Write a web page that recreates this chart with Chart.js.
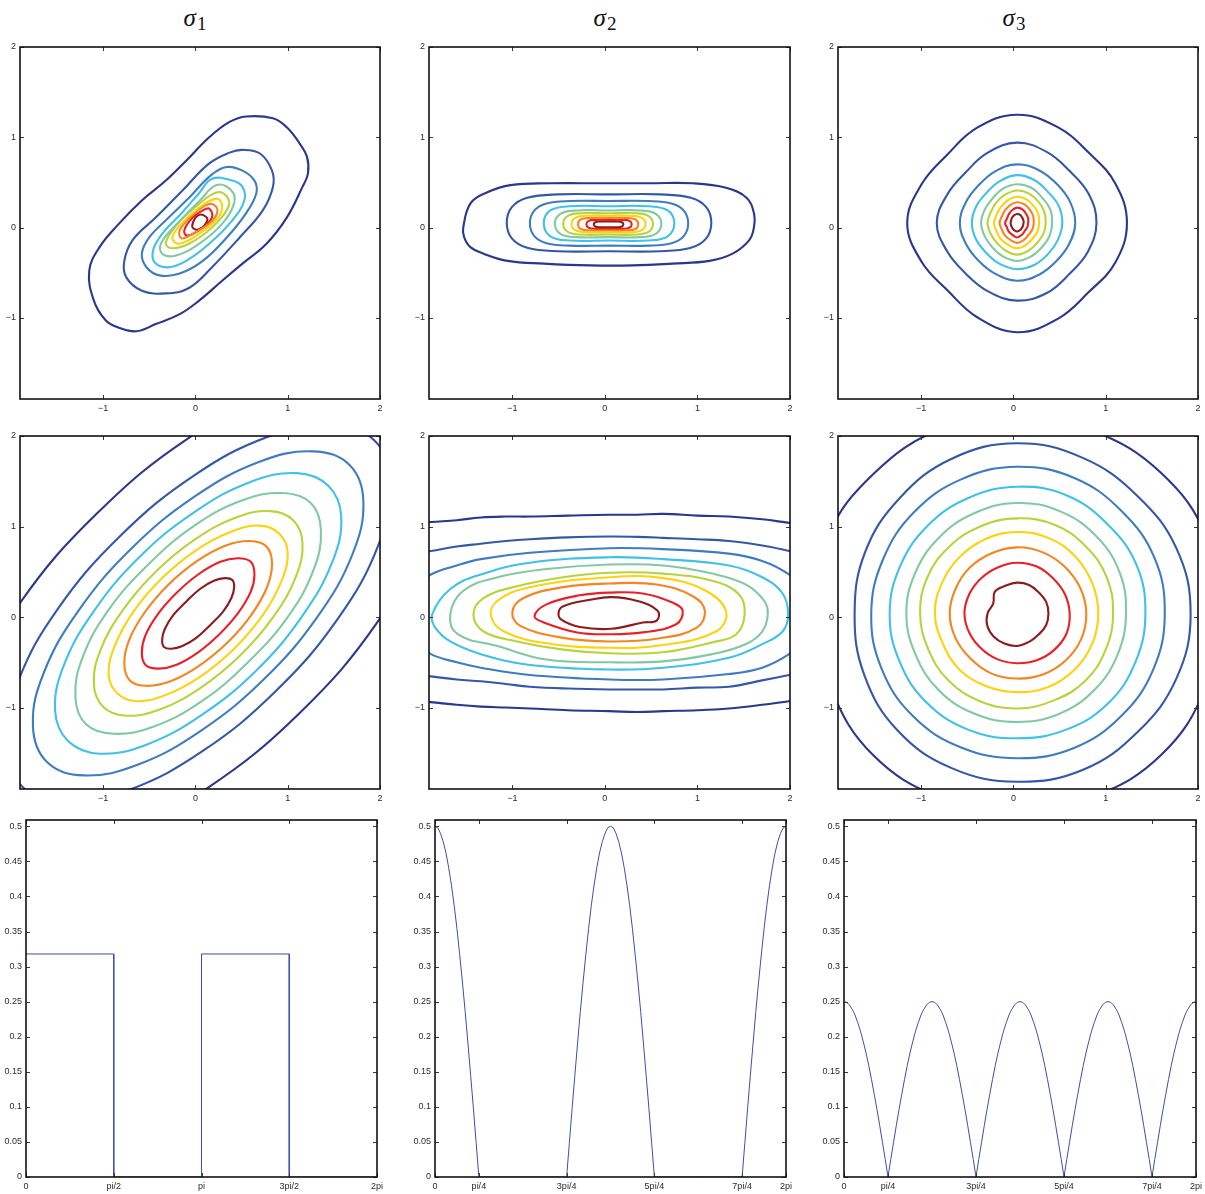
<!DOCTYPE html>
<html>
<head>
<meta charset="utf-8">
<title>Angular densities sigma1, sigma2, sigma3 and their contour maps</title>
<script src="https://cdn.jsdelivr.net/npm/chart.js@4.4.1/dist/chart.umd.min.js"></script>
<style>
  html, body { margin: 0; padding: 0; background: #fff; }
  body { width: 1205px; height: 1194px; position: relative; overflow: hidden; }
  canvas.panel { position: absolute; }
  .heading { position: absolute; top: 5px; transform: translateX(-50%); font-family: "Liberation Serif", "DejaVu Serif", serif; font-size: 25px; line-height: 25px; color: #111; white-space: nowrap; }
  .heading i { font-style: italic; }
  .heading sub { font-style: normal; font-size: 19px; position: relative; top: 4px; vertical-align: baseline; margin-left: 1px; }
</style>
</head>
<body>
<div class="heading" style="left:195px"><i>σ</i><sub>1</sub></div>
<div class="heading" style="left:605px"><i>σ</i><sub>2</sub></div>
<div class="heading" style="left:1014px"><i>σ</i><sub>3</sub></div>
<script>
// ---------------------------------------------------------------------------
// Shared axis data
// ---------------------------------------------------------------------------
const CONTOUR_RANGE = [-1.9, 2];
const CONTOUR_TICKS = [-1, 0, 1, 2];
const CONTOUR_TICK_LABELS = ['\u22121', '0', '1', '2'];

const DENSITY_RANGE = [0, 0.509];
const DENSITY_TICKS = [0, 0.05, 0.1, 0.15, 0.2, 0.25, 0.3, 0.35, 0.4, 0.45, 0.5];
const DENSITY_TICK_LABELS = ['0', '0.05', '0.1', '0.15', '0.2', '0.25', '0.3', '0.35', '0.4', '0.45', '0.5'];

// angle ticks, in multiples of pi
const ANGLE_TICKS_HALF = [0, 0.5, 1, 1.5, 2];
const ANGLE_LABELS_HALF = ['0', 'pi/2', 'pi', '3pi/2', '2pi'];
const ANGLE_TICKS_QUARTER = [0, 0.25, 0.75, 1.25, 1.75, 2];
const ANGLE_LABELS_QUARTER = ['0', 'pi/4', '3pi/4', '5pi/4', '7pi/4', '2pi'];

// contour levels, outermost (lowest) first
const LEVEL_COLOURS = ['#28378f', '#3458a8', '#3e7dc1', '#3fc1e9', '#80c9a3',
                       '#b8d43b', '#fdd20e', '#f6841f', '#ec1f27', '#8e1b1e'];

// ---------------------------------------------------------------------------
// Row 1, sigma1: tilted level curves, x,y pairs
// ---------------------------------------------------------------------------
const contoursA = [
  [0.55,1.23, 0.84,1.21, 0.99,1.11, 1.13,0.93, 1.21,0.78, 1.22,0.60, 1.16,0.45, 0.99,0.11, 0.77,-0.18, 0.51,-0.40, 0.29,-0.59, 0.04,-0.81, -0.17,-0.96, -0.43,-1.07, -0.64,-1.15, -0.83,-1.11, -0.97,-1.03, -1.10,-0.81, -1.15,-0.48, -1.04,-0.22, -0.83,0.04, -0.58,0.30, -0.32,0.52, -0.10,0.74, 0.15,1.00, 0.37,1.17],
  [0.51,0.86, 0.70,0.82, 0.83,0.63, 0.84,0.45, 0.73,0.19, 0.48,-0.11, 0.18,-0.44, -0.07,-0.67, -0.32,-0.73, -0.58,-0.70, -0.75,-0.55, -0.77,-0.37, -0.68,-0.14, -0.43,0.11, -0.14,0.41, 0.15,0.71, 0.37,0.83],
  [0.34,0.67, 0.51,0.63, 0.64,0.52, 0.66,0.38, 0.55,0.16, 0.34,-0.11, 0.08,-0.37, -0.17,-0.51, -0.39,-0.53, -0.53,-0.44, -0.58,-0.29, -0.50,-0.11, -0.30,0.10, -0.05,0.35, 0.17,0.58],
  [0.18,0.54, 0.40,0.52, 0.51,0.45, 0.53,0.30, 0.40,0.08, 0.15,-0.18, -0.10,-0.37, -0.28,-0.44, -0.43,-0.40, -0.46,-0.26, -0.36,-0.07, -0.14,0.17, 0.04,0.38],
  [0.23,0.47, 0.39,0.41, 0.42,0.27, 0.29,0.04, 0.04,-0.18, -0.21,-0.31, -0.36,-0.29, -0.37,-0.17, -0.19,0.05, 0.05,0.30],
  [0.24,0.39, 0.35,0.33, 0.35,0.21, 0.18,0.00, -0.07,-0.18, -0.26,-0.23, -0.32,-0.17, -0.21,0.02, 0.04,0.26],
  [0.23,0.32, 0.29,0.24, 0.24,0.10, 0.04,-0.07, -0.17,-0.18, -0.25,-0.12, -0.17,0.02, 0.04,0.22],
  [0.18,0.26, 0.24,0.19, 0.17,0.06, -0.03,-0.07, -0.15,-0.12, -0.17,-0.03, -0.03,0.14, 0.08,0.23],
  [0.15,0.21, 0.18,0.11, 0.04,-0.03, -0.09,-0.09, -0.12,-0.03, -0.03,0.11, 0.08,0.19],
  [0.08,0.14, 0.13,0.08, 0.04,-0.02, -0.03,0.00, -0.02,0.07, 0.02,0.13]
];

// ---------------------------------------------------------------------------
// Row 1, sigma2: flat, horizontally stretched level curves
// ---------------------------------------------------------------------------
const contoursB = [
  [-1.53,0.00, -1.45,0.27, -1.27,0.39, -1.02,0.47, -0.59,0.49, -0.05,0.49, 0.48,0.49, 0.95,0.49, 1.31,0.44, 1.53,0.33, 1.61,0.16, 1.61,0.00, 1.56,-0.14, 1.38,-0.29, 1.13,-0.37, 0.73,-0.40, 0.30,-0.42, -0.16,-0.42, -0.66,-0.40, -1.05,-0.37, -1.31,-0.29, -1.45,-0.22, -1.52,-0.11],
  [1.15,0.052, 1.095,0.225, 0.929,0.329, 0.598,0.367, 0.045,0.367, -0.508,0.367, -0.839,0.329, -1.005,0.225, -1.06,0.052, -1.005,-0.121, -0.839,-0.225, -0.508,-0.263, 0.045,-0.263, 0.598,-0.263, 0.929,-0.225, 1.095,-0.121],
  [0.90,0.046, 0.857,0.182, 0.729,0.263, 0.473,0.293, 0.045,0.293, -0.383,0.293, -0.639,0.263, -0.767,0.182, -0.81,0.046, -0.767,-0.09, -0.639,-0.171, -0.383,-0.201, 0.045,-0.201, 0.473,-0.201, 0.729,-0.171, 0.857,-0.09],
  [0.75,0.046, 0.68,0.189, 0.47,0.236, 0.045,0.236, -0.38,0.236, -0.59,0.189, -0.66,0.046, -0.59,-0.097, -0.38,-0.144, 0.045,-0.144, 0.47,-0.144, 0.68,-0.097],
  [0.61,0.041, 0.55,0.152, 0.38,0.189, 0.035,0.189, -0.31,0.189, -0.48,0.152, -0.54,0.041, -0.48,-0.07, -0.31,-0.107, 0.035,-0.107, 0.38,-0.107, 0.55,-0.07],
  [0.52,0.04, 0.47,0.129, 0.33,0.158, 0.035,0.158, -0.26,0.158, -0.40,0.129, -0.45,0.04, -0.40,-0.049, -0.26,-0.078, 0.035,-0.078, 0.33,-0.078, 0.47,-0.049],
  [0.44,0.039, 0.40,0.107, 0.28,0.13, 0.04,0.13, -0.20,0.13, -0.32,0.107, -0.36,0.039, -0.32,-0.029, -0.20,-0.052, 0.04,-0.052, 0.28,-0.052, 0.40,-0.029],
  [0.36,0.037, 0.33,0.09, 0.23,0.107, 0.035,0.107, -0.16,0.107, -0.26,0.09, -0.29,0.037, -0.26,-0.016, -0.16,-0.033, 0.035,-0.033, 0.23,-0.033, 0.33,-0.016],
  [0.29,0.035, 0.265,0.073, 0.19,0.085, 0.045,0.085, -0.10,0.085, -0.175,0.073, -0.20,0.035, -0.175,-0.003, -0.10,-0.015, 0.045,-0.015, 0.19,-0.015, 0.265,-0.003],
  [0.20,0.035, 0.184,0.059, 0.136,0.067, 0.04,0.067, -0.056,0.067, -0.104,0.059, -0.12,0.035, -0.104,0.011, -0.056,0.003, 0.04,0.003, 0.136,0.003, 0.184,0.011]
];

// ---------------------------------------------------------------------------
// Row 1, sigma3: rounded level curves given as radii every 22.5 degrees
// (east first, counter-clockwise) around a common centre
// ---------------------------------------------------------------------------
const centreC = [0.04, 0.05];
const radiiC = [
  [1.19,1.15,1.10,1.15,1.20,1.14,1.07,1.12,1.19,1.12,1.06,1.13,1.21,1.15,1.09,1.15],
  [0.86,0.84,0.81,0.85,0.89,0.84,0.79,0.82,0.87,0.82,0.79,0.82,0.86,0.84,0.80,0.83],
  [0.63,0.62,0.61,0.63,0.65,0.62,0.59,0.60,0.62,0.60,0.59,0.61,0.64,0.62,0.60,0.61],
  [0.49,0.49,0.48,0.51,0.53,0.50,0.47,0.48,0.49,0.48,0.47,0.49,0.51,0.50,0.48,0.48],
  [0.38,0.39,0.39,0.42,0.43,0.41,0.38,0.38,0.39,0.38,0.38,0.40,0.42,0.40,0.38,0.38],
  [0.31,0.32,0.33,0.35,0.36,0.34,0.32,0.31,0.32,0.31,0.31,0.33,0.35,0.33,0.31,0.31],
  [0.24,0.25,0.26,0.28,0.29,0.27,0.25,0.24,0.25,0.24,0.25,0.26,0.28,0.26,0.24,0.24],
  [0.18,0.19,0.20,0.22,0.23,0.21,0.19,0.18,0.19,0.18,0.19,0.20,0.22,0.20,0.18,0.18],
  [0.12,0.13,0.14,0.16,0.17,0.15,0.13,0.12,0.13,0.12,0.13,0.14,0.16,0.14,0.12,0.12],
  [0.07,0.075,0.08,0.095,0.10,0.09,0.08,0.07,0.07,0.07,0.075,0.085,0.095,0.085,0.075,0.07]
];

// ---------------------------------------------------------------------------
// Row 2, sigma1: wide tilted level curves, x,y pairs
// ---------------------------------------------------------------------------
const contoursD = [
  [2.43,2.44, 1.83,2.68, 0.95,2.52, -0.07,1.98, -1.07,1.14, -1.91,0.14, -2.45,-0.88, -2.61,-1.76, -2.37,-2.36, -1.77,-2.60, -0.89,-2.44, 0.13,-1.89, 1.13,-1.06, 1.97,-0.06, 2.51,0.96, 2.67,1.84],
  [1.94,1.95, 1.47,2.13, 0.78,1.99, -0.02,1.56, -0.82,0.89, -1.49,0.09, -1.92,-0.71, -2.06,-1.40, -1.88,-1.87, -1.41,-2.05, -0.72,-1.91, 0.08,-1.48, 0.88,-0.81, 1.55,-0.01, 1.98,0.79, 2.12,1.48],
  [1.67,1.68, 1.27,1.83, 0.68,1.71, -0.01,1.33, -0.69,0.76, -1.26,0.08, -1.64,-0.61, -1.76,-1.20, -1.61,-1.60, -1.21,-1.75, -0.62,-1.63, 0.07,-1.25, 0.75,-0.68, 1.32,0.00, 1.70,0.69, 1.82,1.28],
  [1.44,1.45, 1.10,1.59, 0.59,1.49, -0.01,1.16, -0.60,0.67, -1.09,0.08, -1.42,-0.52, -1.52,-1.03, -1.38,-1.37, -1.04,-1.51, -0.53,-1.41, 0.07,-1.08, 0.66,-0.59, 1.15,0.00, 1.48,0.60, 1.58,1.11],
  [1.25,1.26, 0.95,1.37, 0.51,1.29, -0.01,1.01, -0.51,0.58, -0.94,0.08, -1.22,-0.44, -1.30,-0.88, -1.19,-1.18, -0.89,-1.29, -0.45,-1.21, 0.07,-0.93, 0.57,-0.50, 1.00,0.00, 1.28,0.52, 1.36,0.96],
  [1.06,1.07, 0.81,1.17, 0.44,1.10, 0.00,0.86, -0.43,0.50, -0.79,0.07, -1.03,-0.37, -1.10,-0.74, -1.00,-0.99, -0.75,-1.09, -0.38,-1.02, 0.06,-0.78, 0.49,-0.42, 0.85,0.01, 1.09,0.45, 1.16,0.82],
  [0.91,0.92, 0.70,1.01, 0.38,0.94, 0.01,0.74, -0.36,0.43, -0.67,0.06, -0.87,-0.31, -0.94,-0.63, -0.85,-0.84, -0.64,-0.93, -0.32,-0.86, 0.05,-0.66, 0.42,-0.35, 0.73,0.02, 0.93,0.39, 1.00,0.71],
  [0.77,0.78, 0.59,0.84, 0.33,0.79, 0.02,0.62, -0.29,0.36, -0.55,0.05, -0.72,-0.26, -0.77,-0.52, -0.71,-0.70, -0.53,-0.76, -0.27,-0.71, 0.04,-0.54, 0.35,-0.28, 0.61,0.03, 0.78,0.34, 0.83,0.60],
  [0.60,0.61, 0.46,0.65, 0.27,0.61, 0.03,0.47, -0.20,0.27, -0.40,0.04, -0.54,-0.20, -0.58,-0.39, -0.54,-0.53, -0.40,-0.57, -0.21,-0.53, 0.03,-0.39, 0.26,-0.19, 0.46,0.04, 0.60,0.28, 0.64,0.47],
  [0.40,0.41, 0.32,0.43, 0.20,0.40, 0.05,0.31, -0.10,0.17, -0.24,0.02, -0.33,-0.13, -0.36,-0.25, -0.34,-0.33, -0.26,-0.35, -0.14,-0.32, 0.01,-0.23, 0.16,-0.09, 0.30,0.06, 0.39,0.21, 0.42,0.33]
];

// ---------------------------------------------------------------------------
// Row 2, sigma2: the two outer levels run off both sides (open curves),
// the rest are closed
// ---------------------------------------------------------------------------
const edgeLevelsE = [0, 0, 1, 1];
const edgeCurvesE = [
  [-2.2,1.02, -1.88,1.05, -1.6,1.07, -1.34,1.10, -1.07,1.11, -0.81,1.11, -0.4,1.12, 0.05,1.13, 0.35,1.13, 0.63,1.14, 1.0,1.12, 1.34,1.11, 1.70,1.08, 1.99,1.04, 2.3,1.00],
  [-2.2,-0.91, -1.88,-0.94, -1.6,-0.97, -1.34,-0.99, -1.07,-1.00, -0.81,-1.01, -0.4,-1.03, 0.05,-1.04, 0.35,-1.05, 0.63,-1.04, 1.0,-1.03, 1.34,-1.01, 1.70,-0.97, 1.99,-0.93, 2.3,-0.89],
  [-2.2,0.68, -1.88,0.73, -1.6,0.78, -1.34,0.81, -1.07,0.84, -0.81,0.86, -0.4,0.88, 0.05,0.89, 0.35,0.885, 0.63,0.875, 1.0,0.86, 1.34,0.84, 1.70,0.79, 1.99,0.73, 2.3,0.66],
  [-2.2,-0.60, -1.88,-0.656, -1.6,-0.69, -1.34,-0.71, -1.07,-0.74, -0.81,-0.77, -0.4,-0.79, 0.05,-0.80, 0.35,-0.80, 0.63,-0.80, 1.0,-0.78, 1.34,-0.77, 1.70,-0.70, 1.99,-0.64, 2.3,-0.58]
];
const closedLevelsE = [2, 3, 4, 5, 6, 7, 8, 9];
const closedCurvesE = [
  [-2.17,0.03, -2.05,0.32, -1.88,0.47, -1.6,0.57, -1.34,0.64, -0.81,0.71, 0.05,0.76, 0.63,0.75, 1.34,0.70, 1.70,0.62, 1.99,0.47, 2.15,0.30, 2.26,0.03, 2.15,-0.26, 1.99,-0.41, 1.70,-0.56, 1.34,-0.63, 0.63,-0.69, 0.05,-0.69, -0.81,-0.64, -1.34,-0.56, -1.6,-0.50, -1.88,-0.41, -2.05,-0.27],
  [-1.865,0.03, -1.67,0.31, -1.34,0.47, -0.81,0.60, 0.05,0.66, 0.63,0.64, 1.34,0.57, 1.70,0.44, 1.92,0.26, 1.98,0.03, 1.92,-0.16, 1.70,-0.30, 1.34,-0.45, 0.63,-0.56, 0.05,-0.58, -0.81,-0.53, -1.34,-0.41, -1.67,-0.27, -1.83,-0.12],
  [-1.67,0.03, -1.53,0.29, -1.16,0.44, -0.63,0.53, 0.05,0.58, 0.63,0.57, 1.16,0.48, 1.52,0.36, 1.72,0.18, 1.76,0.03, 1.70,-0.16, 1.52,-0.30, 1.16,-0.41, 0.63,-0.49, 0.05,-0.50, -0.63,-0.47, -1.16,-0.32, -1.59,-0.19],
  [-1.42,0.03, -1.31,0.21, -0.95,0.34, -0.45,0.44, 0.05,0.49, 0.63,0.48, 1.16,0.40, 1.45,0.25, 1.51,0.03, 1.42,-0.19, 1.16,-0.28, 0.63,-0.39, 0.05,-0.40, -0.45,-0.36, -0.95,-0.27, -1.31,-0.16],
  [-1.23,0.01, -1.16,0.18, -0.81,0.33, 0.05,0.44, 0.63,0.43, 1.09,0.29, 1.31,0.06, 1.20,-0.16, 0.63,-0.31, 0.05,-0.34, -0.63,-0.29, -1.09,-0.16],
  [-1.00,0.05, -0.88,0.21, -0.45,0.33, 0.05,0.37, 0.56,0.36, 0.95,0.23, 1.08,0.07, 0.99,-0.12, 0.56,-0.24, 0.05,-0.27, -0.45,-0.23, -0.91,-0.10],
  [-0.76,0.01, -0.63,0.14, -0.27,0.24, 0.05,0.27, 0.41,0.26, 0.73,0.16, 0.84,0.07, 0.77,-0.08, 0.41,-0.17, 0.05,-0.19, -0.30,-0.17, -0.66,-0.06],
  [-0.50,0.05, -0.45,0.12, -0.16,0.19, 0.07,0.22, 0.34,0.18, 0.57,0.07, 0.56,-0.04, 0.41,-0.06, 0.07,-0.13, -0.27,-0.11, -0.47,-0.03]
];

// ---------------------------------------------------------------------------
// Row 2, sigma3: near-circular level curves, radii every 22.5 degrees
// ---------------------------------------------------------------------------
const centreF = [0.04, 0.04];
const radiiF = [
  [2.20,2.22,2.20,2.18,2.21,2.20,2.19,2.22,2.20,2.18,2.21,2.20,2.22,2.19,2.21,2.20],
  [1.88,1.87,1.84,1.86,1.88,1.85,1.80,1.78,1.76,1.79,1.83,1.85,1.86,1.87,1.85,1.87],
  [1.60,1.61,1.60,1.62,1.62,1.60,1.58,1.57,1.58,1.59,1.60,1.60,1.60,1.61,1.60,1.60],
  [1.39,1.40,1.39,1.41,1.40,1.38,1.37,1.37,1.38,1.38,1.39,1.39,1.38,1.39,1.40,1.39],
  [1.18,1.20,1.21,1.22,1.22,1.20,1.19,1.19,1.20,1.19,1.20,1.20,1.20,1.20,1.19,1.18],
  [1.04,1.05,1.05,1.06,1.05,1.04,1.04,1.05,1.05,1.04,1.05,1.05,1.05,1.04,1.05,1.04],
  [0.88,0.88,0.89,0.90,0.90,0.89,0.88,0.88,0.89,0.87,0.88,0.87,0.87,0.88,0.88,0.88],
  [0.75,0.74,0.73,0.73,0.73,0.72,0.72,0.72,0.73,0.72,0.71,0.72,0.72,0.73,0.74,0.75],
  [0.57,0.56,0.55,0.56,0.56,0.55,0.55,0.56,0.57,0.56,0.55,0.55,0.55,0.56,0.57,0.58],
  [0.34,0.34,0.33,0.34,0.34,0.33,0.34,0.28,0.32,0.35,0.36,0.36,0.36,0.34,0.33,0.34]
];

// ---------------------------------------------------------------------------
// Row 3: angular densities
// ---------------------------------------------------------------------------
// sigma1: piecewise constant, angles in multiples of pi
const sigma1StepAngles  = [0, 0.5, 0.5, 1, 1, 1.5, 1.5, 2];
const sigma1StepDensity = [0.318, 0.318, 0, 0, 0.318, 0.318, 0, 0];

// sigma2 and sigma3 sampled on an even grid from 0 to 2pi
const sigma2Density = [
  0.500,0.498,0.490,0.478,0.462,0.441,0.416,0.387,0.354,0.317,0.278,0.236,0.191,0.145,0.098,0.049,0,
  0,0,0,0,0,0,0,0,0,0, 0,0,0,0,0,0,0,0,0,0, 0,0,0,0,0,0,0,0,0,0, 0,
  0,0.049,0.098,0.145,0.191,0.236,0.278,0.317,0.354,0.387,0.416,0.441,0.462,0.478,0.490,0.498,0.500,
  0.498,0.490,0.478,0.462,0.441,0.416,0.387,0.354,0.317,0.278,0.236,0.191,0.145,0.098,0.049,0,
  0,0,0,0,0,0,0,0,0,0, 0,0,0,0,0,0,0,0,0,0, 0,0,0,0,0,0,0,0,0,0, 0,
  0,0.049,0.098,0.145,0.191,0.236,0.278,0.317,0.354,0.387,0.416,0.441,0.462,0.478,0.490,0.498,0.500
];
const sigma3Density = [
  0.250,0.249,0.245,0.239,0.231,0.220,0.208,0.193,0.177,0.159,0.139,0.118,0.096,0.073,0.049,0.025,0,
  0.025,0.049,0.073,0.096,0.118,0.139,0.159,0.177,0.193,0.208,0.220,0.231,0.239,0.245,0.249,0.250,
  0.249,0.245,0.239,0.231,0.220,0.208,0.193,0.177,0.159,0.139,0.118,0.096,0.073,0.049,0.025,0,
  0.025,0.049,0.073,0.096,0.118,0.139,0.159,0.177,0.193,0.208,0.220,0.231,0.239,0.245,0.249,0.250,
  0.249,0.245,0.239,0.231,0.220,0.208,0.193,0.177,0.159,0.139,0.118,0.096,0.073,0.049,0.025,0,
  0.025,0.049,0.073,0.096,0.118,0.139,0.159,0.177,0.193,0.208,0.220,0.231,0.239,0.245,0.249,0.250,
  0.249,0.245,0.239,0.231,0.220,0.208,0.193,0.177,0.159,0.139,0.118,0.096,0.073,0.049,0.025,0,
  0.025,0.049,0.073,0.096,0.118,0.139,0.159,0.177,0.193,0.208,0.220,0.231,0.239,0.245,0.249,0.250
];

// ---------------------------------------------------------------------------
// Page layout: plot rectangles [left, top, right, bottom] in page pixels
// ---------------------------------------------------------------------------
const GRID_COLS = [[20, 380], [429, 790], [838, 1198]];
const GRID_ROWS = [[47, 399], [436, 789]];
const DENSITY_COLS = [[26, 377], [435, 786], [844, 1196]];
const DENSITY_ROW = [820, 1177];

const AXIS_BAND_Y = 40;   // room for y tick labels
const AXIS_BAND_X = 22;   // room for x tick labels
const PAD_TOP = 10;
const PAD_RIGHT = 12;

const TICK_FONT = { family: '"Liberation Sans", Arial, Helvetica, sans-serif', size: 9 };
const TICK_COLOUR = '#2b2b2b';
const CONTOUR_WIDTH = 2.1;
const DENSITY_COLOUR = '#3a50a4';

// ---------------------------------------------------------------------------
// Helpers
// ---------------------------------------------------------------------------
const toPoints = flat => {
  const pts = [];
  for (let i = 0; i < flat.length; i += 2) pts.push({ x: flat[i], y: flat[i + 1] });
  return pts;
};
const ANGLES16 = Array.from({ length: 16 }, (_, k) => k * Math.PI / 8);
const polarPoints = (centre, radii) =>
  radii.map((r, k) => ({ x: centre[0] + r * Math.cos(ANGLES16[k]), y: centre[1] + r * Math.sin(ANGLES16[k]) }));

// A closed curve: wrap one point on each side so the spline closes smoothly,
// and hide the two wrap-around segments.
function closedCurve(points, colour) {
  const n = points.length;
  return {
    data: [points[n - 1], ...points, points[0], points[1]],
    borderColor: colour,
    borderWidth: CONTOUR_WIDTH,
    borderJoinStyle: 'round',
    tension: 0.4,
    showLine: true,
    clip: 0,
    segment: {
      borderColor: s => (s.p0DataIndex === 0 || s.p0DataIndex === n + 1) ? 'rgba(0,0,0,0)' : undefined
    }
  };
}
function openCurve(points, colour) {
  return { data: points, borderColor: colour, borderWidth: CONTOUR_WIDTH, borderJoinStyle: 'round',
           tension: 0.4, showLine: true, clip: 0 };
}

function axis(range, ticks, labels, isX) {
  return {
    type: 'linear',
    min: range[0],
    max: range[1],
    bounds: 'data',
    grid: { display: false, drawTicks: false },
    border: { display: false },
    ticks: {
      autoSkip: false, maxRotation: 0, minRotation: 0,
      padding: 4,
      color: TICK_COLOUR, font: TICK_FONT,
      callback: (v, i) => labels[i]
    },
    afterBuildTicks: s => { s.ticks = ticks.map(v => ({ value: v })); },
    afterFit: s => {
      if (isX) s.height = AXIS_BAND_X; else s.width = AXIS_BAND_Y;
      s.paddingLeft = 0; s.paddingRight = 0; s.paddingTop = 0; s.paddingBottom = 0;
    }
  };
}

// Box frame with short inward ticks on all four sides.
const boxFrame = {
  id: 'boxFrame',
  afterDatasetsDraw(chart) {
    const { ctx, chartArea: a, scales: { x, y } } = chart;
    const len = 4;
    ctx.save();
    ctx.strokeStyle = '#3a3a3a';
    ctx.lineWidth = 1;
    ctx.beginPath();
    x.ticks.forEach(t => {
      const px = Math.round(x.getPixelForValue(t.value)) + 0.5;
      ctx.moveTo(px, a.bottom); ctx.lineTo(px, a.bottom - len);
      ctx.moveTo(px, a.top); ctx.lineTo(px, a.top + len);
    });
    y.ticks.forEach(t => {
      const py = Math.round(y.getPixelForValue(t.value)) + 0.5;
      ctx.moveTo(a.left, py); ctx.lineTo(a.left + len, py);
      ctx.moveTo(a.right, py); ctx.lineTo(a.right - len, py);
    });
    ctx.stroke();
    ctx.strokeStyle = '#111';
    ctx.lineWidth = 1.6;
    ctx.strokeRect(a.left, a.top, a.right - a.left, a.bottom - a.top);
    ctx.restore();
  }
};

function makeCanvas(left, top, right, bottom) {
  const c = document.createElement('canvas');
  c.className = 'panel';
  c.width = right - left + AXIS_BAND_Y + PAD_RIGHT;
  c.height = bottom - top + PAD_TOP + AXIS_BAND_X;
  c.style.left = (left - AXIS_BAND_Y) + 'px';
  c.style.top = (top - PAD_TOP) + 'px';
  c.style.width = c.width + 'px';
  c.style.height = c.height + 'px';
  document.body.appendChild(c);
  return c;
}

function drawPanel(rect, datasets, xAxis, yAxis) {
  const canvas = makeCanvas(rect[0], rect[1], rect[2], rect[3]);
  return new Chart(canvas, {
    type: 'scatter',
    data: { datasets },
    options: {
      responsive: false,
      devicePixelRatio: 1,
      animation: false,
      events: [],
      layout: { padding: { left: 0, top: PAD_TOP, right: PAD_RIGHT, bottom: 0 } },
      elements: { point: { radius: 0, hoverRadius: 0 }, line: { capBezierPoints: false } },
      plugins: { legend: { display: false }, tooltip: { enabled: false }, title: { display: false } },
      scales: { x: xAxis, y: yAxis }
    },
    plugins: [boxFrame]
  });
}

const contourAxes = () => [
  axis(CONTOUR_RANGE, CONTOUR_TICKS, CONTOUR_TICK_LABELS, true),
  axis(CONTOUR_RANGE, CONTOUR_TICKS, CONTOUR_TICK_LABELS, false)
];
const rect = (col, row) => [col[0], row[0], col[1], row[1]];

// ---------------------------------------------------------------------------
// Row 1
// ---------------------------------------------------------------------------
drawPanel(rect(GRID_COLS[0], GRID_ROWS[0]),
  contoursA.map((c, i) => closedCurve(toPoints(c), LEVEL_COLOURS[i])), ...contourAxes());
drawPanel(rect(GRID_COLS[1], GRID_ROWS[0]),
  contoursB.map((c, i) => closedCurve(toPoints(c), LEVEL_COLOURS[i])), ...contourAxes());
drawPanel(rect(GRID_COLS[2], GRID_ROWS[0]),
  radiiC.map((r, i) => closedCurve(polarPoints(centreC, r), LEVEL_COLOURS[i])), ...contourAxes());

// ---------------------------------------------------------------------------
// Row 2
// ---------------------------------------------------------------------------
drawPanel(rect(GRID_COLS[0], GRID_ROWS[1]),
  contoursD.map((c, i) => closedCurve(toPoints(c), LEVEL_COLOURS[i])), ...contourAxes());
drawPanel(rect(GRID_COLS[1], GRID_ROWS[1]), [
  ...edgeCurvesE.map((c, i) => openCurve(toPoints(c), LEVEL_COLOURS[edgeLevelsE[i]])),
  ...closedCurvesE.map((c, i) => closedCurve(toPoints(c), LEVEL_COLOURS[closedLevelsE[i]]))
], ...contourAxes());
drawPanel(rect(GRID_COLS[2], GRID_ROWS[1]),
  radiiF.map((r, i) => closedCurve(polarPoints(centreF, r), LEVEL_COLOURS[i])), ...contourAxes());

// ---------------------------------------------------------------------------
// Row 3: densities over the angle
// ---------------------------------------------------------------------------
const densityLine = data => ({ data, borderColor: DENSITY_COLOUR, borderWidth: 1, tension: 0, showLine: true, clip: 0 });
const gridSeries = values => values.map((v, k) => ({ x: k * 2 * Math.PI / (values.length - 1), y: v }));
const angleAxis = (ticks, labels) => axis([0, 2 * Math.PI], ticks.map(m => m * Math.PI), labels, true);
const densityAxis = () => axis(DENSITY_RANGE, DENSITY_TICKS, DENSITY_TICK_LABELS, false);

drawPanel(rect(DENSITY_COLS[0], DENSITY_ROW),
  [densityLine(sigma1StepAngles.map((m, k) => ({ x: m * Math.PI, y: sigma1StepDensity[k] })))],
  angleAxis(ANGLE_TICKS_HALF, ANGLE_LABELS_HALF), densityAxis());
drawPanel(rect(DENSITY_COLS[1], DENSITY_ROW),
  [densityLine(gridSeries(sigma2Density))],
  angleAxis(ANGLE_TICKS_QUARTER, ANGLE_LABELS_QUARTER), densityAxis());
drawPanel(rect(DENSITY_COLS[2], DENSITY_ROW),
  [densityLine(gridSeries(sigma3Density))],
  angleAxis(ANGLE_TICKS_QUARTER, ANGLE_LABELS_QUARTER), densityAxis());
</script>
</body>
</html>
